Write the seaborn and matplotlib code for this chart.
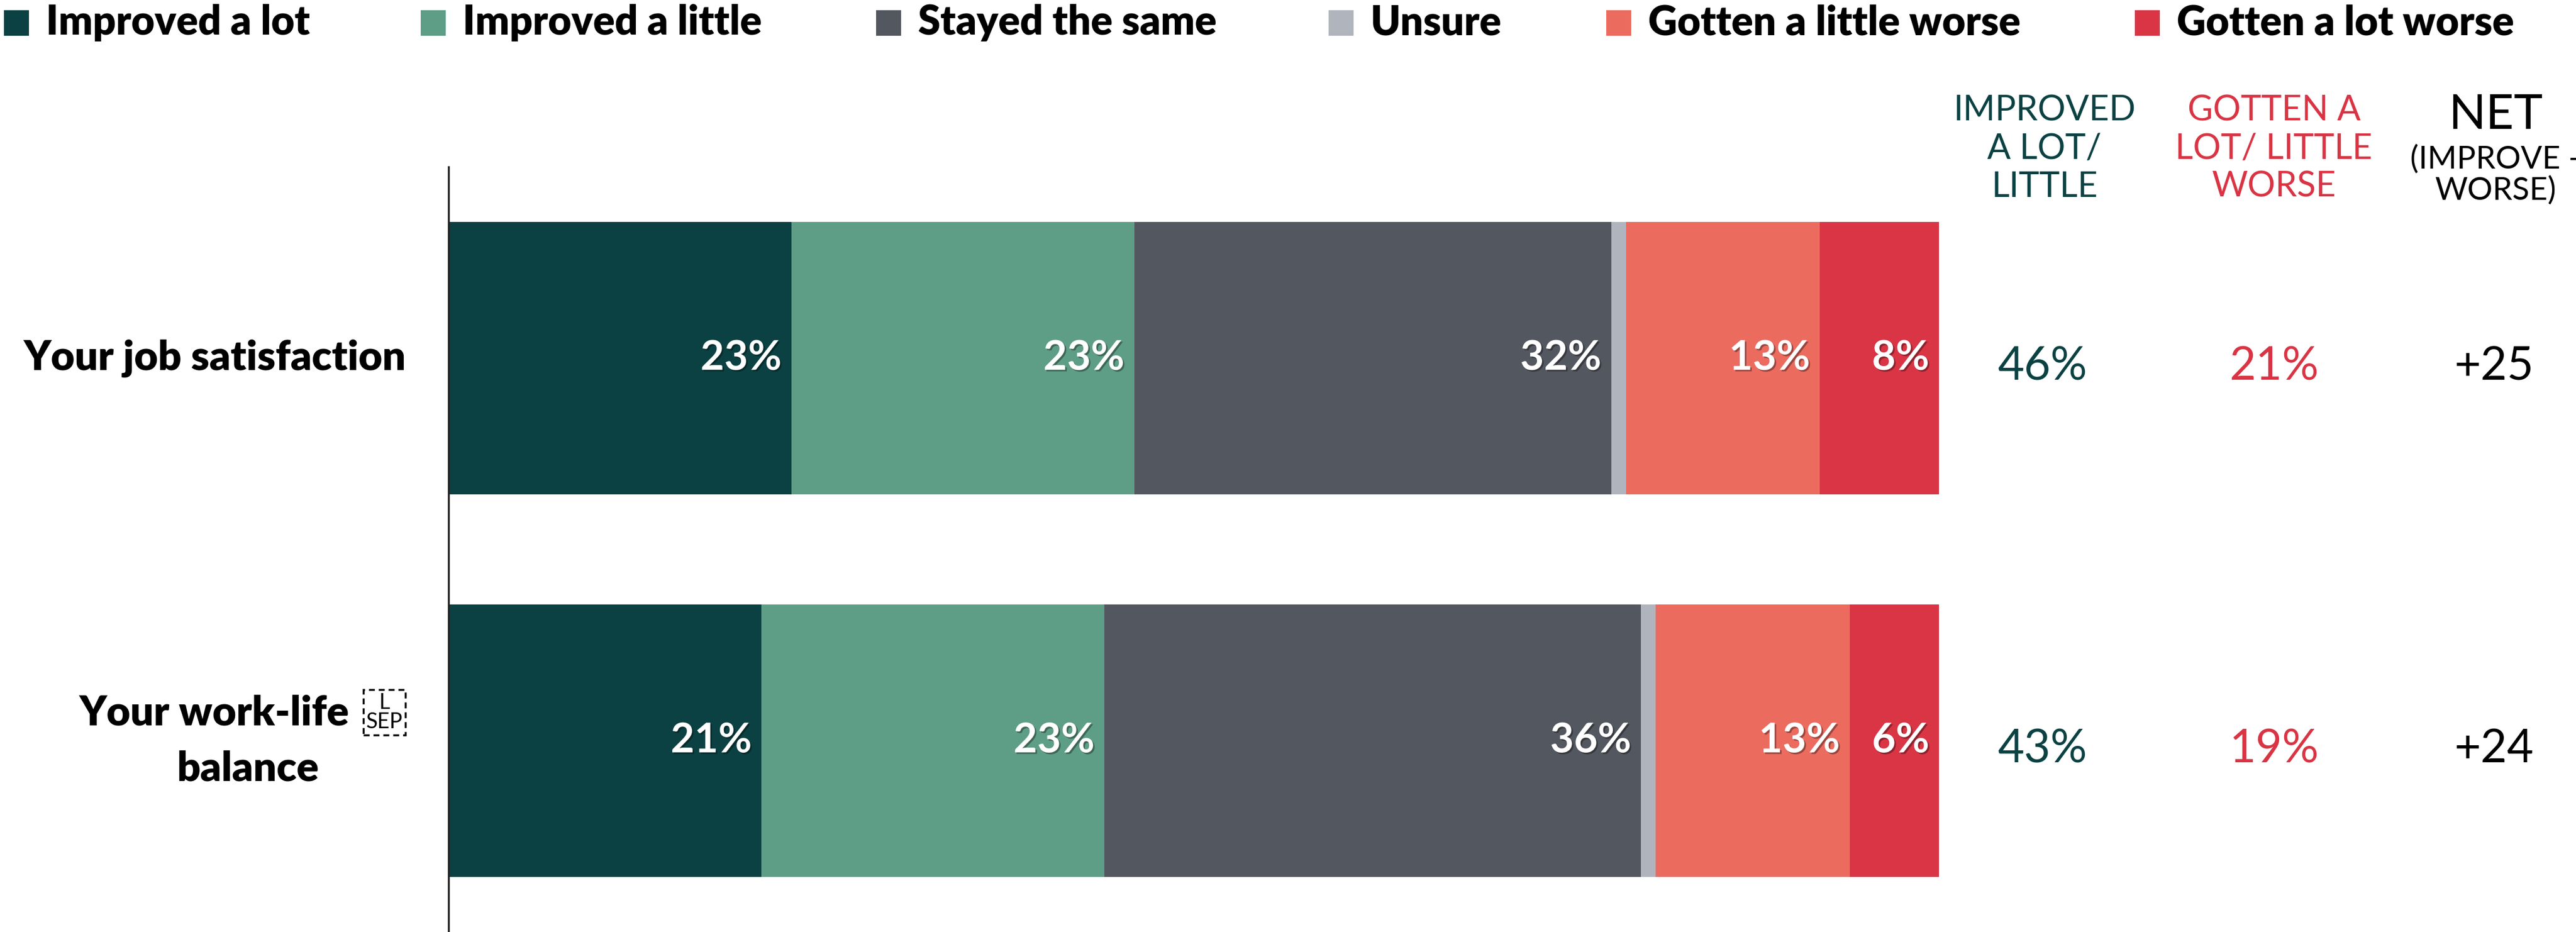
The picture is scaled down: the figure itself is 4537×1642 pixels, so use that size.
import matplotlib
matplotlib.use("Agg")
import matplotlib.pyplot as plt
import matplotlib.patheffects as pe
from matplotlib.patches import Rectangle
import seaborn as sns
import pandas as pd
import numpy as np

# ---- data ----
categories = ["Your job satisfaction", "Your work-life balance"]
series = ["Improved a lot", "Improved a little", "Stayed the same", "Unsure",
          "Gotten a little worse", "Gotten a lot worse"]
improved_lot = [23, 21]
improved_little = [23, 23]
stayed_same = [32, 36]
unsure = [1, 1]
worse_little = [13, 13]
worse_lot = [8, 6]
improved_total = [46, 43]
worse_total = [21, 19]
net = [25, 24]

colors = ["#0B4142", "#5E9E86", "#53575F", "#B0B5BD", "#EC6B5F", "#D93545"]
label_series = [True, True, True, False, True, True]

W, H, DPI = 4537, 1642, 100
FONT = "Lato"

sns.set_theme(style="white")
plt.rcParams["font.family"] = [FONT, "DejaVu Sans"]

fig = plt.figure(figsize=(W / DPI, H / DPI), dpi=DPI)
ax = fig.add_axes([790 / W, 0, (3415 - 790) / W, 1 - 294 / H])

df = pd.DataFrame({"category": categories})
values = [improved_lot, improved_little, stayed_same, unsure, worse_little, worse_lot]
cum = np.cumsum(np.array(values, dtype=float), axis=0)
for i, name in enumerate(series):
    df[name] = cum[i]

# stacked bars: draw cumulative totals from the outermost segment inward
for i in reversed(range(len(series))):
    sns.barplot(data=df, x=series[i], y="category", orient="h", color=colors[i],
                saturation=1, width=0.712, linewidth=0, edgecolor="none", ax=ax)

ax.set_xlim(0, 100)
ax.set_ylim(1.5, -0.5)
ax.set_xlabel("")
ax.set_ylabel("")
ax.set_xticks([])
ax.set_yticks([])
for s in ["top", "right", "bottom"]:
    ax.spines[s].set_visible(False)
ax.spines["left"].set_color("#222222")
ax.spines["left"].set_linewidth(2.5)

# segment value labels
shadow = [pe.withSimplePatchShadow(offset=(2, -2), shadow_rgbFace="black", alpha=0.35)]
for i in range(len(series)):
    if not label_series[i]:
        continue
    for r in range(len(categories)):
        ax.annotate(f"{values[i][r]}%", xy=(cum[i][r], r), xytext=(-17, 0),
                    textcoords="offset pixels", ha="right", va="center",
                    color="white", fontsize=52, fontweight="bold",
                    path_effects=shadow)

# category labels
ax.annotate(categories[0], xy=(715 / W, 0), xycoords=("figure fraction", "data"),
            ha="right", va="center", fontsize=52, fontweight="heavy", color="black")
ax.annotate("Your work-life", xy=(615 / W, 1), xycoords=("figure fraction", "data"),
            xytext=(0, 48), textcoords="offset pixels",
            ha="right", va="center", fontsize=52, fontweight="heavy", color="black")
ax.annotate("balance", xy=(436 / W, 1), xycoords=("figure fraction", "data"),
            xytext=(0, -49), textcoords="offset pixels",
            ha="center", va="center", fontsize=52, fontweight="heavy", color="black")
ax.annotate("L\nSEP", xy=(677 / W, 1), xycoords=("figure fraction", "data"),
            xytext=(0, 50), textcoords="offset pixels",
            ha="center", va="center", fontsize=27, color="black", linespacing=0.95,
            bbox=dict(boxstyle="square,pad=0.12", fc="white", ec="black",
                      ls=(0, (3, 2)), lw=2.5))

# summary columns
cols = [(3597, improved_total, "#0B4142", "{}%"),
        (4005, worse_total, "#D93444", "{}%"),
        (4393, net, "black", "+{}")]
for xpix, vals, col, fmt in cols:
    for r, v in enumerate(vals):
        ax.annotate(fmt.format(v), xy=(xpix / W, r), xycoords=("figure fraction", "data"),
                    xytext=(0, -15), textcoords="offset pixels",
                    ha="center", va="center", fontsize=58, color=col)

# column headers
fig.text(3601 / W, 1 - 262 / H, "IMPROVED\nA LOT/\nLITTLE", ha="center", va="center",
         fontsize=44, color="#0B4142", linespacing=1.22)
fig.text(4005 / W, 1 - 262 / H, "GOTTEN A\nLOT/ LITTLE\nWORSE", ha="center", va="center",
         fontsize=44, color="#D93444", linespacing=1.22)
fig.text(4395 / W, 1 - 203 / H, "NET", ha="center", va="center",
         fontsize=62, color="black")
fig.text(4395 / W, 1 - 308 / H, "(IMPROVE -\nWORSE)", ha="center", va="center",
         fontsize=40, color="black", linespacing=1.08)

# legend row
legend_x = [7, 741, 1543, 2340, 2829, 3760]
for name, col, x0 in zip(series, colors, legend_x):
    fig.patches.append(Rectangle((x0 / W, 1 - 63 / H), 44 / W, 45 / H,
                                 transform=fig.transFigure, facecolor=col,
                                 edgecolor="none"))
    fig.text((x0 + 74) / W, 1 - 40 / H, name, ha="left", va="center",
             fontsize=51, fontweight="heavy", color="black")

fig.savefig("out.png", dpi=DPI, facecolor="white")
